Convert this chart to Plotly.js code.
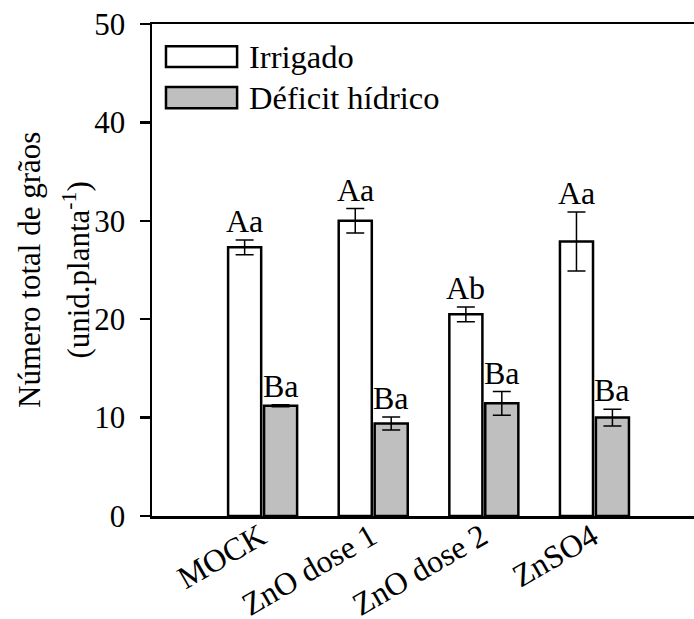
<!DOCTYPE html>
<html>
<head>
<meta charset="utf-8">
<script src="https://cdn.plot.ly/plotly-3.0.1.min.js"></script>
<style>html,body{margin:0;padding:0;background:#fff;}#chart{width:694px;height:619px;}</style>
</head>
<body>
<div id="chart"></div>
<script>
// ---- data ----
const categories = ["MOCK", "ZnO dose 1", "ZnO dose 2", "ZnSO4"];
const seriesNames = ["Irrigado", "Déficit hídrico"];
const irrigado = [27.3, 30.0, 20.5, 27.9];
const irrigadoErr = [0.75, 1.25, 0.75, 3.0];
const deficit = [11.2, 9.4, 11.45, 10.0];
const deficitErr = [0.1, 0.65, 1.2, 0.85];
const irrigadoLabels = ["Aa", "Aa", "Ab", "Aa"];
const deficitLabels = ["Ba", "Ba", "Ba", "Ba"];
const yTicks = [0, 10, 20, 30, 40, 50];
const yTitleLines = ["Número total de grãos", "(unid.planta<sup>-1</sup>)"];

// ---- styles ----
const FONT = "Liberation Serif";
const colors = ["#ffffff", "#bfbfbf"];
const bargap = 0.35, bargroupgap = 0.08;
const slot = (1 - bargap) / 2;
const offsets = [-slot / 2, slot / 2];

function barTrace(name, y, err, color) {
  return {
    type: "bar", name: name, x: categories, y: y,
    marker: {color: color, line: {color: "#000", width: 2.5}},
    error_y: {type: "data", array: err, visible: true, color: "#000", thickness: 1.5, width: 9},
    showlegend: false, hoverinfo: "skip"
  };
}

const data = [
  barTrace(seriesNames[0], irrigado, irrigadoErr, colors[0]),
  barTrace(seriesNames[1], deficit, deficitErr, colors[1])
];

const annotations = [];
const vals = [irrigado, deficit], errs = [irrigadoErr, deficitErr], labs = [irrigadoLabels, deficitLabels];
for (let s = 0; s < 2; s++) {
  categories.forEach((c, i) => {
    annotations.push({
      x: i + offsets[s], y: vals[s][i] + errs[s][i], xref: "x", yref: "y",
      text: labs[s][i], showarrow: false, yanchor: "bottom", yshift: -1,
      font: {family: FONT, size: 32, color: "#000"}
    });
  });
}

// custom legend (wide boxes like the original)
const legendRows = [{y0: 0.9126, y1: 0.955}, {y0: 0.829, y1: 0.872}];
const shapes = [];
seriesNames.forEach((n, k) => {
  shapes.push({
    type: "rect", xref: "paper", yref: "paper",
    x0: 0.0258, x1: 0.157, y0: legendRows[k].y0, y1: legendRows[k].y1,
    fillcolor: colors[k], line: {color: "#000", width: 2.5}
  });
  annotations.push({
    xref: "paper", yref: "paper", x: 0.176, y: (legendRows[k].y0 + legendRows[k].y1) / 2,
    xanchor: "left", yanchor: "middle", text: n, showarrow: false,
    font: {family: FONT, size: 32.5, color: "#000"}
  });
});

// y-axis title (two lines, as in the original)
const titleX = [-0.227, -0.141];
yTitleLines.forEach((t, k) => {
  annotations.push({
    xref: "paper", yref: "paper", x: titleX[k], y: 0.5, xanchor: "center", yanchor: "middle",
    text: t, textangle: -90, showarrow: false,
    font: {family: FONT, size: 31, color: "#000"}
  });
});

const layout = {
  width: 694, height: 619,
  margin: {l: 152, r: 0, t: 24, b: 103},
  paper_bgcolor: "#fff", plot_bgcolor: "#fff",
  font: {family: FONT, size: 31, color: "#000"},
  barmode: "group", bargap: bargap, bargroupgap: bargroupgap,
  xaxis: {
    type: "category", range: [-1, 3.9], showline: true, linecolor: "#000", linewidth: 2.5,
    mirror: true, ticks: "", tickangle: -30, showgrid: false, zeroline: false,
    ticklabelstandoff: -13, ticklabelshift: -2,
    tickfont: {family: FONT, size: 32, color: "#000"}
  },
  yaxis: {
    range: [0, 50], tickvals: yTicks, showline: true, linecolor: "#000", linewidth: 2.5,
    ticks: "outside", ticklen: 10, tickwidth: 2.5, tickcolor: "#000",
    showgrid: false, zeroline: false, ticklabelstandoff: 8,
    tickfont: {family: FONT, size: 31, color: "#000"}
  },
  shapes: shapes,
  annotations: annotations
};

Plotly.newPlot("chart", data, layout, {displayModeBar: false, staticPlot: true});
</script>
</body>
</html>
